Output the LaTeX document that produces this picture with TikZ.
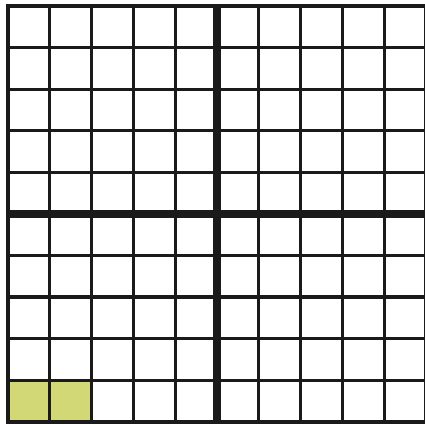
\documentclass[tikz,border=0pt]{standalone}
\definecolor{cellgreen}{HTML}{D3D876}
\definecolor{gridink}{HTML}{1A1A1A}
\tikzset{
  thinline/.style={draw=gridink,line width=3.2pt},
  outerline/.style={draw=gridink,line width=4.2pt},
  midline/.style={draw=gridink,line width=8pt},
}
\begin{document}
\begin{tikzpicture}[x=1pt,y=-1pt]
\useasboundingbox (0,0) rectangle (425,424);
\fill[white] (0,0) rectangle (425,424);
\def\dx{41.8}\def\dy{41.57}\def\ox{8}\def\oy{6}
% green cells
\fill[cellgreen] (\ox,{\oy+9*\dy}) rectangle ({\ox+2*\dx},{\oy+10*\dy});
% thin lines
\foreach \i in {1,2,3,4,6,7,8,9}{
  \draw[thinline] ({\ox+\i*\dx},\oy) -- ({\ox+\i*\dx},{\oy+10*\dy});
  \draw[thinline] (\ox,{\oy+\i*\dy}) -- ({\ox+10*\dx},{\oy+\i*\dy});
}
% middle thick lines
\draw[midline] ({\ox+5*\dx},\oy) -- ({\ox+5*\dx},{\oy+10*\dy});
\draw[midline] (\ox,{\oy+5*\dy}) -- ({\ox+10*\dx},{\oy+5*\dy});
% outer border
\draw[outerline] (\ox,\oy) rectangle ({\ox+10*\dx},{\oy+10*\dy});
\end{tikzpicture}
\end{document}
